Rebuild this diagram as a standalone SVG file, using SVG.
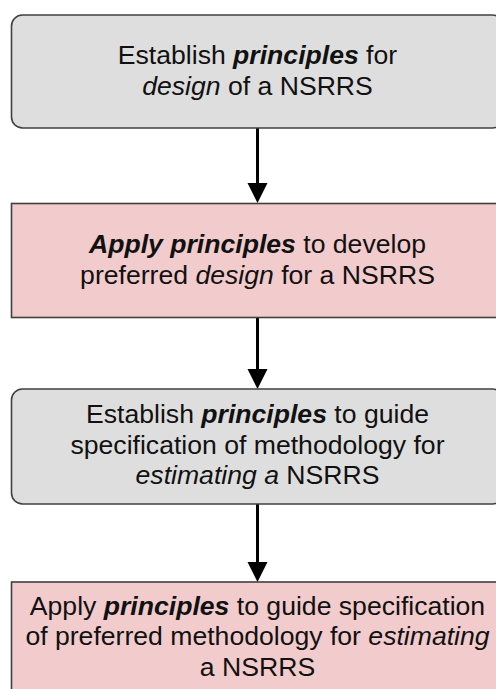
<svg xmlns="http://www.w3.org/2000/svg" width="496" height="689" viewBox="0 0 496 689">
<style>
.box{stroke:#404040;stroke-width:1.6}
.gray{fill:#dedede}
.pink{fill:#f2cbcc}
text{font-family:"Liberation Sans",Arial,sans-serif;font-size:26.6px;fill:#111;text-anchor:middle}
.bi{font-weight:bold;font-style:italic}
.i{font-style:italic}
.conn{stroke:#000;stroke-width:3;fill:none}
.head{fill:#000}
</style>
<g id="connectors">
<line class="conn" x1="257.5" y1="128" x2="257.5" y2="184"/>
<path class="head" d="M247.5,183 L267.5,183 L257.5,203 Z"/>
<line class="conn" x1="257.5" y1="318" x2="257.5" y2="370"/>
<path class="head" d="M247.5,369 L267.5,369 L257.5,389 Z"/>
<line class="conn" x1="257.5" y1="504" x2="257.5" y2="563"/>
<path class="head" d="M247.5,562 L267.5,562 L257.5,582 Z"/>
</g>
<g id="node1">
<rect class="box gray" x="11.5" y="15" width="492" height="113" rx="11"/>
<text x="257.5" y="63.5">Establish <tspan class="bi">principles</tspan> for</text>
<text x="257.5" y="94.5"><tspan class="i">design</tspan> of a NSRRS</text>
</g>
<g id="node2">
<rect class="box pink" x="11.5" y="203.5" width="492" height="114"/>
<text x="257.5" y="252.5"><tspan class="bi">Apply principles</tspan> to develop</text>
<text x="257.5" y="283.5">preferred <tspan class="i">design</tspan> for a NSRRS</text>
</g>
<g id="node3">
<rect class="box gray" x="11.5" y="389" width="492" height="115" rx="11"/>
<text x="257.5" y="423">Establish <tspan class="bi">principles</tspan> to guide</text>
<text x="257.5" y="453.5">specification of methodology for</text>
<text x="257.5" y="484"><tspan class="i">estimating a</tspan> NSRRS</text>
</g>
<g id="node4">
<rect class="box pink" x="11.5" y="582" width="492" height="120"/>
<text x="257.5" y="614.5">Apply <tspan class="bi">principles</tspan> to guide specification</text>
<text x="257.5" y="645">of preferred methodology for <tspan class="i">estimating</tspan></text>
<text x="257.5" y="676">a NSRRS</text>
</g>
</svg>
